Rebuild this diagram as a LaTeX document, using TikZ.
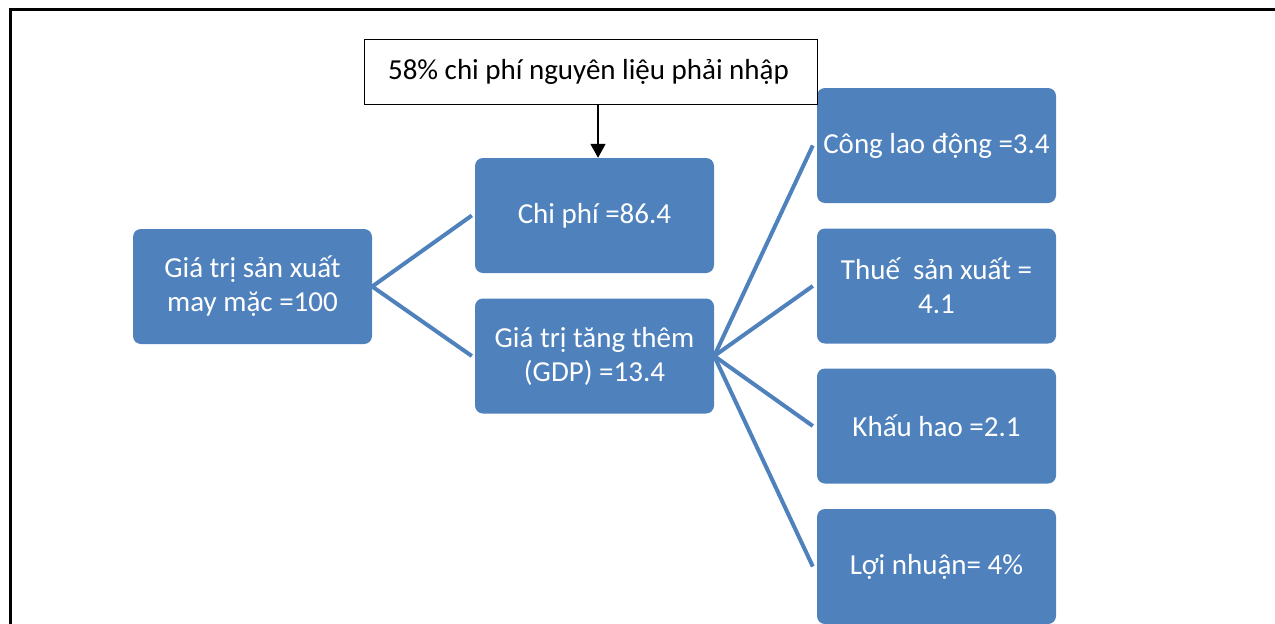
\documentclass[tikz,border=0pt]{standalone}
\usepackage{fontspec}
\setmainfont{Carlito}
\usetikzlibrary{arrows.meta}
\definecolor{boxblue}{HTML}{4F81BD}
\tikzset{
  bluebox/.style={fill=boxblue, rounded corners=8pt, minimum width=239pt, minimum height=115pt,
    text=white, align=center, inner sep=0pt, font=\fontsize{29}{34}\selectfont},
  notebox/.style={draw=black, line width=1pt, fill=white, minimum width=453pt, minimum height=65pt,
    inner sep=0pt, font=\fontsize{29}{34}\selectfont},
  link/.style={draw=boxblue, line width=4pt},
  feed/.style={draw=black, line width=1.8pt, -{Triangle[length=14pt,width=15pt]}}
}
\begin{document}
\begin{tikzpicture}[x=1pt,y=-1pt]
\clip (0,0) rectangle (1275,624);
\useasboundingbox (0,0) rectangle (1275,624);
\fill[white] (0,0) rectangle (1275,624);
\draw[line width=3pt] (10,9) rectangle (1290,640);
\node[bluebox] (root) at (252.5,286.5) {Giá trị sản xuất\\may mặc =100};
\node[bluebox] (chi) at (594.5,215.5) {Chi phí =86.4};
\node[bluebox] (gdp) at (594.5,356) {Giá trị tăng thêm\\(GDP) =13.4};
\node[bluebox] (cong) at (936.5,145.5) {Công lao động =3.4};
\node[bluebox] (thue) at (936.5,286) {Thuế\ \ sản xuất =\\4.1};
\node[bluebox] (khau) at (936.5,426) {Khấu hao =2.1};
\node[bluebox] (loi) at (936.5,566.5) {Lợi nhuận= 4\%};
\node[notebox] (note) at (590.5,71.5) {\hspace*{-4pt}58\% chi phí nguyên liệu phải nhập};
\draw[link] (root.east) -- ([xshift=-3pt]chi.west);
\draw[link] (root.east) -- ([xshift=-3pt]gdp.west);
\draw[link] (gdp.east) -- ([xshift=-4pt]cong.west);
\draw[link] (gdp.east) -- ([xshift=-4pt]thue.west);
\draw[link] (gdp.east) -- ([xshift=-4pt]khau.west);
\draw[link] (gdp.east) -- ([xshift=-4pt]loi.west);
\draw[feed] (note.south -| 598,0) -- (chi.north -| 598,0);
\end{tikzpicture}
\end{document}
